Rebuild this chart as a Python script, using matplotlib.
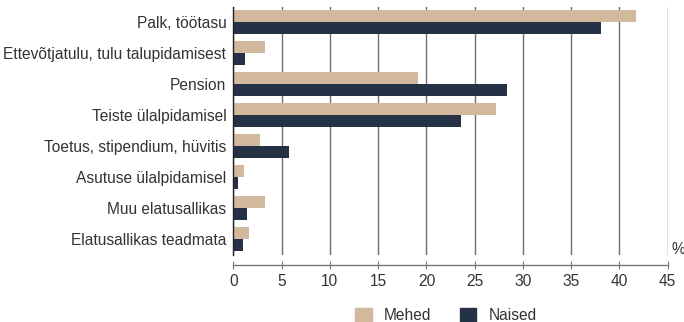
import matplotlib
matplotlib.use("Agg")
import matplotlib.pyplot as plt
import matplotlib.patches as mpatches
import numpy as np

# Elatusallikas soo järgi, %
categories = [
    "Palk, töötasu",
    "Ettevõtjatulu, tulu talupidamisest",
    "Pension",
    "Teiste ülalpidamisel",
    "Toetus, stipendium, hüvitis",
    "Asutuse ülalpidamisel",
    "Muu elatusallikas",
    "Elatusallikas teadmata",
]
mehed = [41.7, 3.3, 19.1, 27.2, 2.8, 1.1, 3.3, 1.6]
naised = [38.1, 1.2, 28.4, 23.6, 5.8, 0.5, 1.4, 1.0]
series_labels = ["Mehed", "Naised"]
x_ticks = [0, 5, 10, 15, 20, 25, 30, 35, 40, 45]

TAN = "#D2B89C"
NAVY = "#253145"
TEXT = "#333333"

plt.rcParams["font.family"] = ["Liberation Sans", "DejaVu Sans"]
plt.rcParams["font.size"] = 11.2

fig = plt.figure(figsize=(6.84, 3.22), dpi=100)
ax = fig.add_axes([0.3411, 0.2081, 0.9762 - 0.3411, 0.9783 - 0.2081])

y = np.arange(len(categories))
h = 0.387
ax.barh(y - h / 2, mehed, height=h, color=TAN, zorder=2)
ax.barh(y + h / 2, naised, height=h, color=NAVY, zorder=2)

ax.set_xlim(0, 45)
ax.set_ylim(len(categories) - 0.5, -0.5)
ax.set_xticks(x_ticks)
ax.set_yticks(y)
ax.set_yticklabels(categories, color=TEXT)

# vertikaalsed abijooned
ax.grid(axis="x", color="#6e6e6e", linewidth=1.0, zorder=0)
ax.grid(axis="y", visible=False)

for side in ("top", "right"):
    ax.spines[side].set_visible(False)
ax.spines["left"].set_color("#222222")
ax.spines["left"].set_linewidth(1.0)
ax.spines["bottom"].set_position(("outward", 7))
ax.spines["bottom"].set_color("#777777")
ax.spines["bottom"].set_linewidth(1.0)

ax.tick_params(axis="y", length=0, pad=5)
ax.tick_params(axis="x", direction="inout", length=6, color="#777777",
               labelcolor=TEXT, pad=4)

fig.text(0.981, 0.202, "%", ha="left", va="bottom", color=TEXT)

handles = [mpatches.Patch(color=TAN, label=series_labels[0]),
           mpatches.Patch(color=NAVY, label=series_labels[1])]
leg = fig.legend(handles=handles, loc="center", bbox_to_anchor=(0.652, 0.02),
                 ncol=2, frameon=False, handlelength=1.05, handleheight=1.05,
                 handletextpad=0.8, columnspacing=1.8)
for t in leg.get_texts():
    t.set_color(TEXT)

fig.savefig("out.png", dpi=100)
